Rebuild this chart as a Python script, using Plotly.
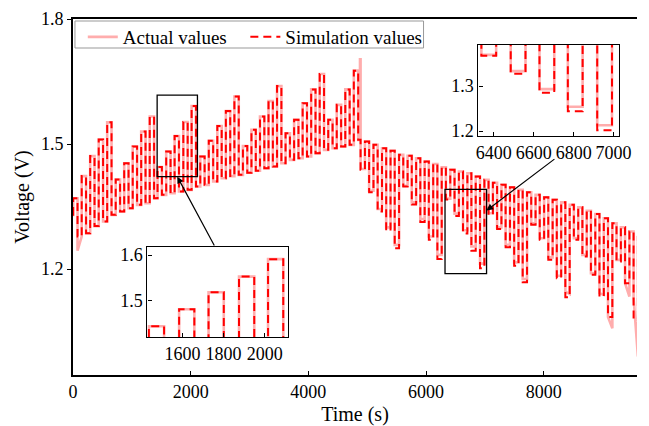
import plotly.graph_objects as go

# ---------------- data ----------------
# charge phase: pulse start times (s), peak voltage, rest voltage after each pulse
charge_start = [3, 148, 292, 437, 581, 726, 870, 1015, 1159, 1304,
                1437, 1584, 1727, 1875, 2016, 2163, 2308, 2453, 2598, 2743,
                2888, 3033, 3178, 3323, 3468, 3613, 3758, 3903, 4048, 4193,
                4338, 4483, 4628, 4773]
charge_peak = [1.370, 1.423, 1.471, 1.511, 1.552,
               1.415, 1.454, 1.494, 1.530, 1.566,
               1.445, 1.482, 1.519, 1.553, 1.591,
               1.470, 1.508, 1.543, 1.579, 1.614,
               1.495, 1.534, 1.566, 1.603, 1.639,
               1.526, 1.558, 1.598, 1.631, 1.668,
               1.558, 1.594, 1.631, 1.676]
charge_rest = [1.278, 1.286, 1.303, 1.314, 1.330,
               1.338, 1.346, 1.354, 1.358, 1.370,
               1.378, 1.382, 1.386, 1.390, 1.398,
               1.402, 1.410, 1.418, 1.423, 1.426,
               1.431, 1.436, 1.442, 1.446, 1.454,
               1.462, 1.466, 1.470, 1.478, 1.486,
               1.490, 1.494, 1.498, 1.510]
start_voltage = 1.330
first_dip_actual = 1.244      # actual voltage dips right after the first pulse
spike_time = 4878
spike_peak = 1.703

# discharge phase: pulse start times (s), low voltage (actual / simulation), rest after pulse
disch_start = [4888, 5033, 5178, 5323, 5468, 5613, 5758, 5903, 6048, 6193,
               6338, 6485, 6629, 6771, 6918, 7063, 7208, 7353, 7498, 7643,
               7788, 7933, 8078, 8223, 8368, 8513, 8658, 8803, 8948, 9093,
               9238, 9383, 9528]
disch_low_act = [1.440, 1.388, 1.344, 1.300, 1.258,
                 1.400, 1.360, 1.320, 1.278, 1.234,
                 1.369, 1.333, 1.293, 1.254, 1.213,
                 1.334, 1.300, 1.258, 1.216, 1.176,
                 1.310, 1.274, 1.228, 1.184, 1.140,
                 1.274, 1.234, 1.190, 1.138, 1.058,
                 1.222, 1.134, 0.990]
disch_sag_act = [0, 0, 0, 0, 0,
                 0, 0, 0, 0, 0,
                 0, 0, 0, 0, 0,
                 0, 0, 0, 0, 0,
                 0, 0, 0, 0, 0.006,
                 0, 0, 0, 0.004, 0.027,
                 0, 0.032, 0.140]
disch_low_sim = [1.438, 1.384, 1.338, 1.292, 1.250,
                 1.398, 1.355, 1.313, 1.270, 1.224,
                 1.367, 1.327, 1.285, 1.244, 1.202,
                 1.330, 1.296, 1.252, 1.208, 1.168,
                 1.306, 1.270, 1.222, 1.178, 1.132,
                 1.270, 1.230, 1.186, 1.134, 1.085,
                 1.218, 1.166, 1.080]
disch_rest = [1.506, 1.498, 1.490, 1.484, 1.474,
              1.472, 1.466, 1.458, 1.452, 1.444,
              1.438, 1.434, 1.430, 1.422, 1.414,
              1.407, 1.402, 1.396, 1.390, 1.384,
              1.378, 1.372, 1.366, 1.360, 1.354,
              1.348, 1.340, 1.332, 1.322, 1.310,
              1.300, 1.290, 1.280]
pulse_width = 74

# axes
x_range = [0, 9586]
y_range = [0.9457, 1.8]
x_ticks = [0, 2000, 4000, 6000, 8000]
y_ticks = [1.2, 1.5, 1.8]
inset1_x = [1430, 2115]
inset1_y = [1.4217, 1.6174]
inset1_xticks = [1600, 1800, 2000]
inset1_yticks = [1.5, 1.6]
inset2_x = [6323, 7029]
inset2_y = [1.189, 1.391]
inset2_xticks = [6400, 6600, 6800, 7000]
inset2_yticks = [1.2, 1.3]


# ---------------- build step series ----------------
def build(actual):
    t = [0.0]
    v = [start_voltage]
    for i, (s, p, r) in enumerate(zip(charge_start, charge_peak, charge_rest)):
        t += [s, s, s + pulse_width]
        v += [v[-1], p, p]
        if actual and i == 0:
            t += [s + pulse_width, charge_start[1] - 2]
            v += [first_dip_actual, r]
        else:
            t += [s + pulse_width]
            v += [r]
    if actual:
        t += [spike_time, spike_time, spike_time + 4]
        v += [v[-1], spike_peak, spike_peak]
    lows = disch_low_act if actual else disch_low_sim
    sags = disch_sag_act if actual else [0] * len(disch_low_sim)
    for s, lo, sg, r in zip(disch_start, lows, sags, disch_rest):
        t += [s, s, s + pulse_width, s + pulse_width]
        v += [v[-1], lo + sg, lo, r]
    return t, v


t_act, v_act = build(True)
t_sim, v_sim = build(False)

FONT = "Liberation Serif, Times New Roman, serif"
act_style = dict(color="#FFADAD", width=2.6)
sim_style = dict(color="#FF0000", width=2, dash="8px,5px")

fig = go.Figure()
for xa, ya, show in [("x", "y", True), ("x2", "y2", False), ("x3", "y3", False)]:
    fig.add_trace(go.Scatter(x=t_act, y=v_act, mode="lines", line=act_style,
                             name="Actual values", showlegend=show, legend="legend",
                             xaxis=xa, yaxis=ya))
    fig.add_trace(go.Scatter(x=t_sim, y=v_sim, mode="lines", line=sim_style,
                             name="Simulation values", showlegend=show, legend="legend2",
                             xaxis=xa, yaxis=ya))

W, H = 649, 426
ML, MR, MT, MB = 73, 0, 19, 51
PW, PH = W - ML - MR, H - MT - MB


def px_to_paper_x(px):
    return (px - ML) / PW


def px_to_paper_y(py):
    return (H - MB - py) / PH


ins1_dom_x = [px_to_paper_x(149), px_to_paper_x(293)]
ins1_dom_y = [px_to_paper_y(337), px_to_paper_y(247)]
ins2_dom_x = [px_to_paper_x(487), px_to_paper_x(631)]
ins2_dom_y = [px_to_paper_y(136), px_to_paper_y(45)]

tickfont = dict(family=FONT, size=18, color="black")
base_axis = dict(showgrid=False, zeroline=False, showline=True, linecolor="black",
                 tickfont=tickfont, ticklen=4, tickcolor="black")
legend_common = dict(orientation="h", yanchor="top", xanchor="left",
                     bgcolor="rgba(0,0,0,0)", borderwidth=0,
                     font=dict(family=FONT, size=19))

fig.update_layout(
    width=W, height=H,
    margin=dict(l=ML, r=MR, t=MT, b=MB, pad=0),
    paper_bgcolor="white", plot_bgcolor="white",
    font=dict(family=FONT, size=18, color="black"),
    xaxis=dict(**base_axis, range=x_range, tickvals=x_ticks, ticks="inside",
               linewidth=1.6, mirror=True, domain=[0, 1],
               title=dict(text="Time (s)", font=dict(family=FONT, size=20), standoff=8)),
    yaxis=dict(**base_axis, range=y_range, tickvals=y_ticks, ticktext=["1.2", "1.5", "1.8"],
               ticks="outside", linewidth=1.6, domain=[0, 1],
               title=dict(text="Voltage (V)", font=dict(family=FONT, size=20), standoff=6)),
    xaxis2=dict(**base_axis, range=inset1_x, tickvals=inset1_xticks, ticks="inside",
                linewidth=1.3, mirror=True, domain=ins1_dom_x, anchor="y2"),
    yaxis2=dict(**base_axis, range=inset1_y, tickvals=inset1_yticks, ticks="inside",
                linewidth=1.3, mirror=True, domain=ins1_dom_y, anchor="x2"),
    xaxis3=dict(**base_axis, range=inset2_x, tickvals=inset2_xticks, ticks="inside",
                linewidth=1.3, mirror=True, domain=ins2_dom_x, anchor="y3"),
    yaxis3=dict(**base_axis, range=inset2_y, tickvals=inset2_yticks, ticks="inside",
                linewidth=1.3, mirror=True, domain=ins2_dom_y, anchor="x3"),
    legend=dict(**legend_common, x=px_to_paper_x(83), y=px_to_paper_y(18)),
    legend2=dict(**legend_common, x=px_to_paper_x(249), y=px_to_paper_y(18)),
)

# legend frame
fig.add_shape(type="rect", xref="paper", yref="paper",
              x0=px_to_paper_x(75), x1=px_to_paper_x(431),
              y0=px_to_paper_y(48), y1=px_to_paper_y(21),
              line=dict(color="#999999", width=1), fillcolor="white", layer="above")

# zoom boxes on the main axes (same extent as the insets)
for xr, yr in [(inset1_x, inset1_y), (inset2_x, inset2_y)]:
    fig.add_shape(type="rect", xref="x", yref="y", x0=xr[0], x1=xr[1], y0=yr[0], y1=yr[1],
                  line=dict(color="black", width=1.3), fillcolor="rgba(0,0,0,0)")


def paper_to_data_x(p):
    return x_range[0] + p * (x_range[1] - x_range[0])


def paper_to_data_y(p):
    return y_range[0] + p * (y_range[1] - y_range[0])


# arrow 1: from inset 1 top to box 1 bottom
fig.add_annotation(
    x=(inset1_x[0] + inset1_x[1]) / 2, y=inset1_y[0],
    ax=paper_to_data_x(ins1_dom_x[0] + 0.48 * (ins1_dom_x[1] - ins1_dom_x[0])),
    ay=paper_to_data_y(ins1_dom_y[1]),
    xref="x", yref="y", axref="x", ayref="y", text="", showarrow=True,
    arrowhead=2, arrowsize=1.1, arrowwidth=1.2, arrowcolor="black")
# arrow 2: from below inset 2 to box 2 right edge
fig.add_annotation(
    x=inset2_x[1], y=inset2_y[0] + 0.75 * (inset2_y[1] - inset2_y[0]),
    ax=paper_to_data_x(ins2_dom_x[0] + 0.55 * (ins2_dom_x[1] - ins2_dom_x[0])),
    ay=paper_to_data_y(px_to_paper_y(158)),
    xref="x", yref="y", axref="x", ayref="y", text="", showarrow=True,
    arrowhead=2, arrowsize=1.1, arrowwidth=1.2, arrowcolor="black")

fig.write_html("out.html")
